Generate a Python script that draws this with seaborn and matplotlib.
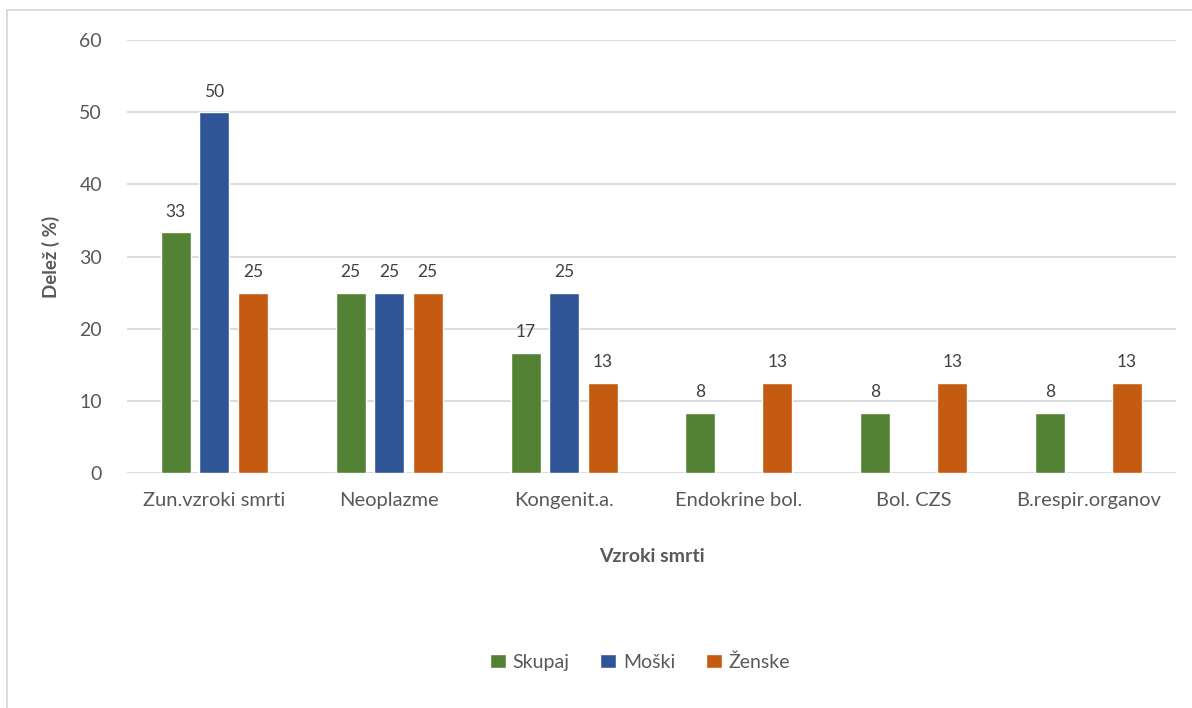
import numpy as np
import pandas as pd
import matplotlib
matplotlib.use("Agg")
import matplotlib.pyplot as plt
from matplotlib.patches import Rectangle
import seaborn as sns

# podatki
vzroki = ["Zun.vzroki smrti", "Neoplazme", "Kongenit.a.", "Endokrine bol.", "Bol. CZS", "B.respir.organov"]
skupaj = [33.33, 25, 16.67, 8.33, 8.33, 8.33]
moski = [50, 25, 25, np.nan, np.nan, np.nan]
zenske = [25, 25, 12.5, 12.5, 12.5, 12.5]
skupine = ["Skupaj", "Moški", "Ženske"]
barve = ["#548235", "#2F5597", "#C55A11"]

df = pd.DataFrame({"vzrok": vzroki, "Skupaj": skupaj, "Moški": moski, "Ženske": zenske})
df = df.melt(id_vars="vzrok", var_name="spol", value_name="delez").dropna()

sns.set_theme(style="white")
plt.rcParams["font.family"] = ["Lato", "DejaVu Sans"]

fig = plt.figure(figsize=(11.92, 7.08), dpi=100)
ax = fig.add_axes([0.1065, 0.3319, 0.8801, 0.6116])

sns.barplot(data=df, x="vzrok", y="delez", hue="spol", order=vzroki, hue_order=skupine,
            palette=barve, width=0.66, gap=0.22, ax=ax, saturation=1, legend=True)

for c in ax.containers:
    oznake = [f"{int(b.get_height() + 0.5)}" for b in c]
    ax.bar_label(c, labels=oznake, padding=9, fontsize=12.5, color="#404040")

ax.set_ylim(0, 60)
ax.set_yticks(range(0, 61, 10))
ax.set_xlim(-0.5, len(vzroki) - 0.5)
ax.grid(axis="y", color="#D9D9D9", linewidth=1.3)
ax.set_axisbelow(True)
for s in ax.spines.values():
    s.set_visible(False)
ax.tick_params(axis="both", length=0, labelcolor="#595959")
ax.tick_params(axis="y", labelsize=14, pad=18)
ax.tick_params(axis="x", labelsize=14.5, pad=14)

ax.set_xlabel("Vzroki smrti", fontsize=14, fontweight="bold", color="#595959", labelpad=28)
ax.set_ylabel("Delež ( %)", fontsize=13.5, fontweight="bold", color="#595959", labelpad=14)

ax.legend(loc="center", bbox_to_anchor=(640 / 1192, 1 - 662 / 708), bbox_transform=fig.transFigure,
          ncol=3, frameon=False, fontsize=14, handlelength=0.8, handleheight=0.8,
          handletextpad=0.35, columnspacing=1.6, labelcolor="#595959")

fig.patches.append(Rectangle((7 / 1192, -0.1), 1.2, 1.1 - 10 / 708, transform=fig.transFigure,
                             fill=False, edgecolor="#D9D9D9", linewidth=1.3))

fig.savefig("out.png", dpi=100, facecolor="white")
